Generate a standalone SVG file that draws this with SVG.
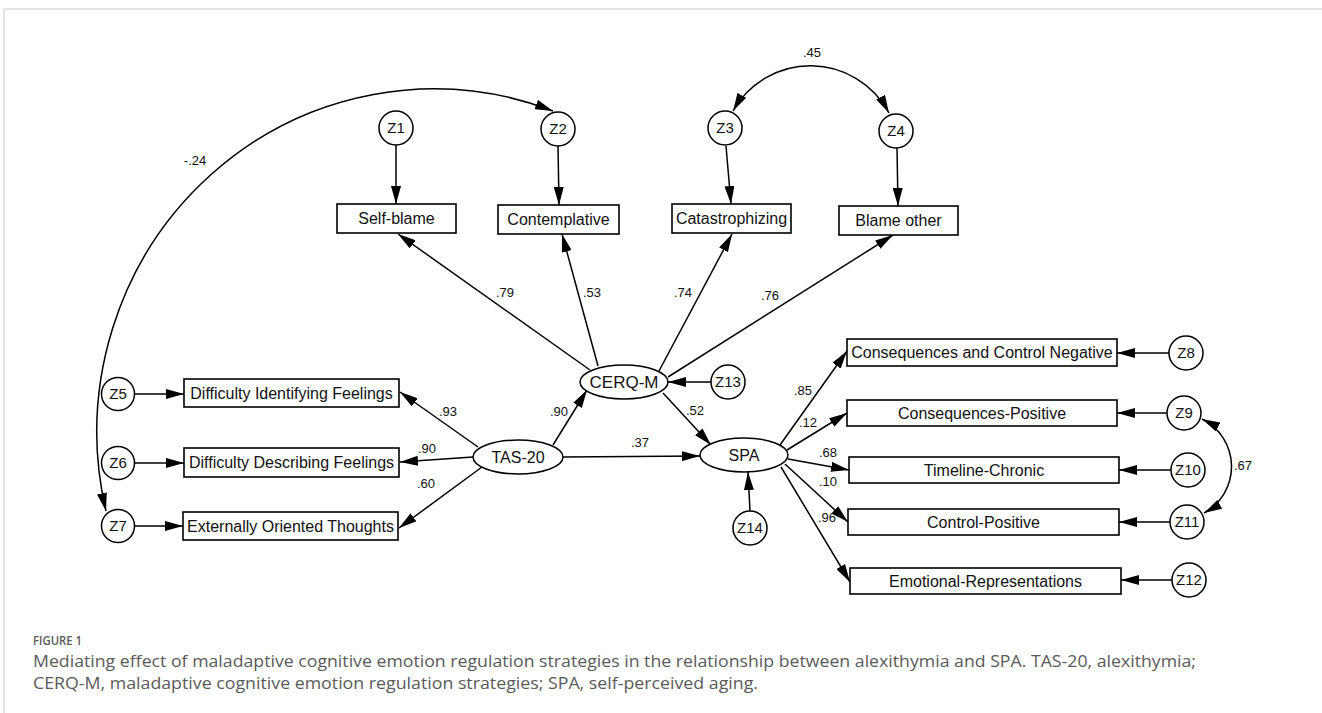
<svg xmlns="http://www.w3.org/2000/svg" width="1322" height="713" viewBox="0 0 1322 713">
<defs>
<marker id="ah" markerUnits="userSpaceOnUse" markerWidth="18" markerHeight="10" refX="18" refY="5" orient="auto-start-reverse" viewBox="0 0 18 10">
<path d="M0,0 L18,5 L0,10 z" fill="#000"/>
</marker>
<style>
.box{fill:#fff;stroke:#000;stroke-width:1.6}
.circ{fill:#fff;stroke:#000;stroke-width:1.5}
.ell{fill:#fff;stroke:#000;stroke-width:1.5}
.lbl{font-family:"Liberation Sans",Arial,sans-serif;font-size:16px;fill:#111;text-anchor:middle}
.zl{font-family:"Liberation Sans",Arial,sans-serif;font-size:15px;fill:#111;text-anchor:middle}
.coef{font-family:"Liberation Sans",Arial,sans-serif;font-size:13px;fill:#111;text-anchor:middle}
.con line,.con path{stroke:#000;stroke-width:1.5;fill:none;marker-end:url(#ah)}
.con path.bi{marker-start:url(#ah)}
.cap{font-family:"Open Sans","Noto Sans",sans-serif;fill:#5a5a5a}
</style>
</defs>
<rect width="1322" height="713" fill="#fff"/>
<path d="M4,713 L4,9 L1322,9" fill="none" stroke="#c8c8c8" stroke-width="1"/>

<g id="connectors" class="con">
<line x1="396" y1="145" x2="396" y2="204"/>
<line x1="558" y1="146" x2="559" y2="205"/>
<line x1="726" y1="146" x2="731" y2="204"/>
<line x1="897" y1="148" x2="898" y2="206"/>
<line x1="590" y1="370" x2="398" y2="234"/>
<line x1="598" y1="366" x2="562" y2="234"/>
<line x1="659" y1="371" x2="732" y2="234"/>
<line x1="668" y1="377" x2="893" y2="235"/>
<line x1="711" y1="382" x2="668" y2="382"/>
<line x1="553" y1="445" x2="587" y2="390"/>
<line x1="563" y1="457" x2="700" y2="456"/>
<line x1="663" y1="393" x2="711" y2="445"/>
<line x1="750" y1="511" x2="748" y2="472"/>
<line x1="478" y1="447" x2="400" y2="392"/>
<line x1="473" y1="457" x2="400" y2="462"/>
<line x1="482" y1="467" x2="399" y2="528"/>
<line x1="135" y1="394" x2="184" y2="394"/>
<line x1="135" y1="463" x2="184" y2="463"/>
<line x1="135" y1="526" x2="183" y2="526"/>
<line x1="780" y1="445" x2="847" y2="351"/>
<line x1="787" y1="450" x2="847" y2="413"/>
<line x1="788" y1="459" x2="849" y2="470"/>
<line x1="785" y1="464" x2="848" y2="522"/>
<line x1="781" y1="467" x2="850" y2="582"/>
<line x1="1169" y1="353" x2="1117" y2="353"/>
<line x1="1167" y1="413" x2="1117" y2="413"/>
<line x1="1171" y1="470" x2="1119" y2="470"/>
<line x1="1170" y1="522" x2="1119" y2="522"/>
<line x1="1172" y1="580" x2="1121" y2="580"/>
<path class="bi" d="M553,111 A337 343 0 0 0 106,511"/>
<path class="bi" d="M733,111 A89 89 0 0 1 889,113"/>
<path class="bi" d="M1202,419 A53 53 0 0 1 1204,513"/>
<text class="coef" x="505" y="297">.79</text>
<text class="coef" x="592" y="297">.53</text>
<text class="coef" x="683" y="297">.74</text>
<text class="coef" x="770" y="300">.76</text>
<text class="coef" x="448" y="416">.93</text>
<text class="coef" x="559" y="416">.90</text>
<text class="coef" x="427" y="453">.90</text>
<text class="coef" x="426" y="488">.60</text>
<text class="coef" x="640" y="447">.37</text>
<text class="coef" x="695" y="415">.52</text>
<text class="coef" x="803" y="395">.85</text>
<text class="coef" x="808" y="427">.12</text>
<text class="coef" x="828" y="457">.68</text>
<text class="coef" x="828" y="486">.10</text>
<text class="coef" x="827" y="522">.96</text>
<text class="coef" x="195" y="165">-.24</text>
<text class="coef" x="812" y="57">.45</text>
<text class="coef" x="1243" y="470">.67</text>
</g>

<g id="Z1"><circle class="circ" cx="396" cy="128" r="17"/><text class="zl" x="396" y="133">Z1</text></g>
<g id="Z2"><circle class="circ" cx="558" cy="129" r="17"/><text class="zl" x="558" y="134">Z2</text></g>
<g id="Z3"><circle class="circ" cx="725" cy="128" r="17"/><text class="zl" x="725" y="133">Z3</text></g>
<g id="Z4"><circle class="circ" cx="896" cy="131" r="17"/><text class="zl" x="896" y="136">Z4</text></g>

<g id="self-blame"><rect class="box" x="337" y="204" width="119" height="29"/><text class="lbl" x="396.5" y="224">Self-blame</text></g>
<g id="contemplative"><rect class="box" x="498" y="205" width="121" height="29"/><text class="lbl" x="558.5" y="225">Contemplative</text></g>
<g id="catastrophizing"><rect class="box" x="672" y="204" width="119" height="29"/><text class="lbl" x="731.5" y="224">Catastrophizing</text></g>
<g id="blame-other"><rect class="box" x="839" y="206" width="119" height="29"/><text class="lbl" x="898.5" y="226">Blame other</text></g>

<g id="CERQ-M"><ellipse class="ell" cx="624" cy="382" rx="44" ry="17"/><text class="lbl" x="624" y="388" style="font-size:17px">CERQ-M</text></g>
<g id="Z13"><circle class="circ" cx="728" cy="382" r="17"/><text class="zl" x="728" y="387">Z13</text></g>
<g id="TAS-20"><ellipse class="ell" cx="518" cy="457" rx="45" ry="17"/><text class="lbl" x="518" y="463">TAS-20</text></g>
<g id="SPA"><ellipse class="ell" cx="744" cy="455" rx="44" ry="17"/><text class="lbl" x="744" y="461">SPA</text></g>
<g id="Z14"><circle class="circ" cx="750" cy="528" r="17"/><text class="zl" x="750" y="533">Z14</text></g>

<g id="Z5"><circle class="circ" cx="118" cy="394" r="16.5"/><text class="zl" x="118" y="399">Z5</text></g>
<g id="Z6"><circle class="circ" cx="118" cy="463" r="16.5"/><text class="zl" x="118" y="468">Z6</text></g>
<g id="Z7"><circle class="circ" cx="118" cy="526" r="16.5"/><text class="zl" x="118" y="531">Z7</text></g>
<g id="difficulty-identifying"><rect class="box" x="184" y="379" width="215" height="28"/><text class="lbl" x="291.5" y="399">Difficulty Identifying Feelings</text></g>
<g id="difficulty-describing"><rect class="box" x="184" y="448" width="215" height="29"/><text class="lbl" x="291.5" y="468">Difficulty Describing Feelings</text></g>
<g id="externally-oriented"><rect class="box" x="183" y="512" width="215" height="28"/><text class="lbl" x="290.5" y="532">Externally Oriented Thoughts</text></g>

<g id="cons-control-neg"><rect class="box" x="847" y="339" width="270" height="27"/><text class="lbl" x="982" y="358">Consequences and Control Negative</text></g>
<g id="cons-positive"><rect class="box" x="847" y="400" width="270" height="26"/><text class="lbl" x="982" y="419">Consequences-Positive</text></g>
<g id="timeline-chronic"><rect class="box" x="849" y="457" width="270" height="26"/><text class="lbl" x="984" y="476">Timeline-Chronic</text></g>
<g id="control-positive"><rect class="box" x="848" y="509" width="271" height="26"/><text class="lbl" x="983.5" y="528">Control-Positive</text></g>
<g id="emotional-rep"><rect class="box" x="850" y="568" width="271" height="26"/><text class="lbl" x="985.5" y="587">Emotional-Representations</text></g>
<g id="Z8"><circle class="circ" cx="1186" cy="353" r="17"/><text class="zl" x="1186" y="358">Z8</text></g>
<g id="Z9"><circle class="circ" cx="1184" cy="413" r="17"/><text class="zl" x="1184" y="418">Z9</text></g>
<g id="Z10"><circle class="circ" cx="1188" cy="470" r="17"/><text class="zl" x="1188" y="475">Z10</text></g>
<g id="Z11"><circle class="circ" cx="1187" cy="522" r="17"/><text class="zl" x="1187" y="527">Z11</text></g>
<g id="Z12"><circle class="circ" cx="1189" cy="580" r="17"/><text class="zl" x="1189" y="585">Z12</text></g>

<g id="caption">
<text class="cap" x="33" y="645" font-size="12.5" font-weight="600" textLength="49" lengthAdjust="spacingAndGlyphs">FIGURE 1</text>
<text class="cap" x="33" y="667" font-size="17" textLength="1163" lengthAdjust="spacingAndGlyphs">Mediating effect of maladaptive cognitive emotion regulation strategies in the relationship between alexithymia and SPA. TAS-20, alexithymia;</text>
<text class="cap" x="33" y="689" font-size="17" textLength="725" lengthAdjust="spacingAndGlyphs">CERQ-M, maladaptive cognitive emotion regulation strategies; SPA, self-perceived aging.</text>
</g>
</svg>
